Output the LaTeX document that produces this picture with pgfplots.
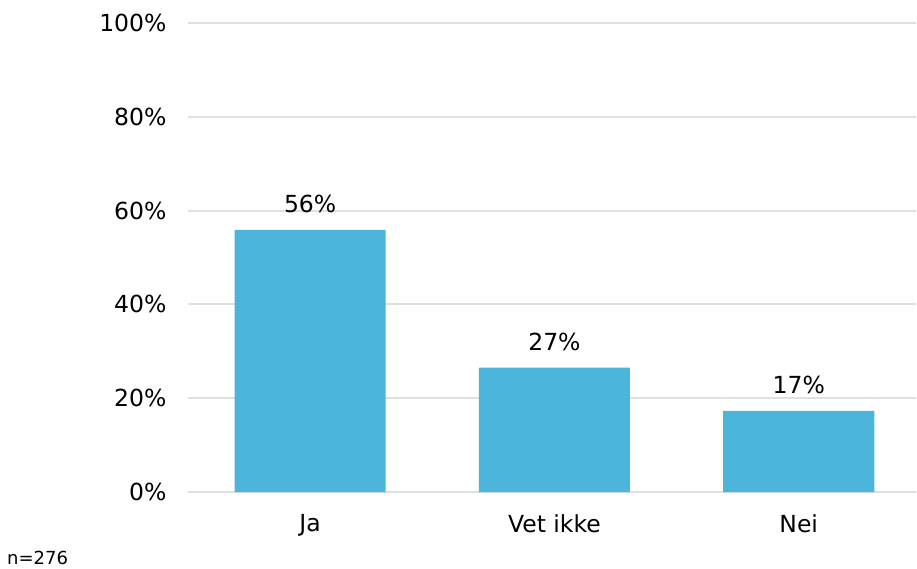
\documentclass[border=0pt]{standalone}
\usepackage{pgfplots}
\pgfplotsset{compat=1.18}
\usepackage{fontspec}
\setmainfont{DejaVu Sans}
\definecolor{barblue}{HTML}{4CB5DB}
\definecolor{gridgray}{HTML}{E0E0E0}
\begin{document}
\begin{tikzpicture}[x=1pt,y=1pt]
\path[use as bounding box] (0,0) rectangle (917,568);
\begin{axis}[
    at={(188pt,76pt)}, anchor=south west,
    scale only axis, width=728pt, height=469pt,
    xmin=-0.5, xmax=2.48, ymin=0, ymax=100,
    axis line style={draw=none},
    ymajorgrids, grid style={gridgray, line width=2pt},
    ytick={0,20,...,100},
    yticklabels={0\%,20\%,40\%,60\%,80\%,100\%},
    xtick={0,1,2}, xticklabels={Ja,Vet ikke,Nei},
    major tick length=0pt,
    tick label style={font=\fontsize{23.5}{28}\selectfont, text=black},
    yticklabel style={xshift=-18pt},
    xticklabel style={yshift=-19pt},
    ybar, bar width=151pt,
    point meta=explicit symbolic,
    nodes near coords,
    nodes near coords style={font=\fontsize{23.5}{28}\selectfont, text=black, yshift=13pt},
]
\addplot[fill=barblue, draw=none] coordinates {
    (0,55.9) [56\%]
    (1,26.5) [27\%]
    (2,17.3) [17\%]
};
\end{axis}
\node[anchor=base west, font=\fontsize{18}{22}\selectfont, inner sep=0pt] at (7,4) {n=276};
\end{tikzpicture}
\end{document}
